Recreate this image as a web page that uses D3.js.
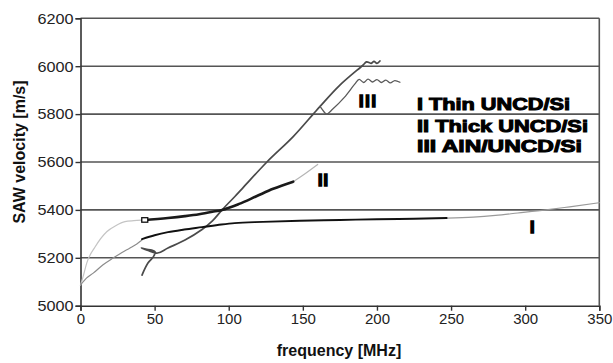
<!DOCTYPE html>
<html><head><meta charset="utf-8">
<script src="https://cdn.jsdelivr.net/npm/d3@7/dist/d3.min.js"></script>
<style>
html,body{margin:0;padding:0;background:#fff;}
svg{display:block;font-family:"Liberation Sans",Arial,sans-serif;}
</style></head>
<body>
<svg id="c" width="613" height="363"></svg>
<script>
// ---- data ----
const freqTicks = [0, 50, 100, 150, 200, 250, 300, 350];
const velTicks = [5000, 5200, 5400, 5600, 5800, 6000, 6200];

// I Thin UNCD/Si
const fitI_f = [0, 4, 8.6, 15, 22, 28, 33.4, 38, 41.5];
const fitI_v = [5086, 5115, 5136, 5170, 5199, 5222, 5241, 5258, 5274];
const measI_f = [41.5, 50, 59, 70, 82, 95, 104, 123, 148, 175, 200, 225, 247];
const measI_v = [5278, 5294, 5307, 5318, 5328, 5339, 5345, 5350, 5355, 5358, 5361, 5363, 5366];
const extI_f = [247, 265, 280, 295, 314, 330, 350];
const extI_v = [5366, 5370, 5377, 5387, 5400, 5413, 5430];

// II Thick UNCD/Si
const fitII_f = [0, 1.7, 4.2, 9.8, 17.7, 24, 30, 36, 41];
const fitII_v = [5085, 5120, 5178, 5245, 5309, 5335, 5351, 5355, 5357];
const measII_f = [42, 59, 70.5, 80, 89, 95.5, 107, 119, 130, 143.5];
const measII_v = [5357, 5366, 5374, 5382, 5392, 5400, 5425, 5458, 5488, 5518];
const extII_f = [143.5, 150, 160];
const extII_v = [5518, 5545, 5590];

// III AlN/UNCD/Si
const measIII_f = [41.5, 45.5, 49, 50.4, 48, 44, 41, 45, 52, 59, 70.5, 82, 89, 95.5, 104, 110, 125.6, 143.5, 157, 161.6, 175, 190.5, 193, 196, 198, 200, 202];
const measIII_v = [5128, 5178, 5203, 5224, 5232, 5236, 5241, 5232, 5220, 5241, 5274, 5318, 5354, 5400, 5455, 5495, 5599, 5706, 5800, 5832, 5921, 6004, 6018, 6012, 6020, 6012, 6022];
const brIII_f = [161.6, 164, 166, 170, 178, 185, 188, 191, 194, 197, 200, 203, 206, 209, 212, 215.5];
const brIII_v = [5832, 5812, 5800, 5820, 5870, 5925, 5945, 5932, 5946, 5934, 5944, 5932, 5942, 5930, 5940, 5933];

const legendLines = ["I Thin UNCD/Si", "II Thick UNCD/Si", "III AlN/UNCD/Si"];

// ---- chart ----
const svg = d3.select("#c");
const L = 80.5, R = 599.3, T = 18.3, B = 305.7;
const x = d3.scaleLinear().domain([0, 350]).range([L, R]);
const y = d3.scaleLinear().domain([5000, 6200]).range([B, T]);

// gridlines
svg.append("g").selectAll("line").data(velTicks.filter(v => v > 5000)).join("line")
  .attr("x1", L).attr("x2", R).attr("y1", d => y(d)).attr("y2", d => y(d))
  .attr("stroke", "#555").attr("stroke-width", 1.6);
// right border
svg.append("line").attr("x1", R).attr("x2", R).attr("y1", T).attr("y2", B)
  .attr("stroke", "#555").attr("stroke-width", 1.6);

// axes
const yAxis = svg.append("g").attr("transform", `translate(${L},0)`)
  .call(d3.axisLeft(y).tickValues(velTicks).tickSize(5).tickPadding(2).tickFormat(d3.format("d")));
const xAxis = svg.append("g").attr("transform", `translate(0,${B})`)
  .call(d3.axisBottom(x).tickValues(freqTicks).tickSize(5).tickPadding(3).tickFormat(d3.format("d")));
[yAxis, xAxis].forEach(g => {
  g.select(".domain").attr("stroke", "#333").attr("stroke-width", 1.6);
  g.selectAll(".tick line").attr("stroke", "#333").attr("stroke-width", 1.4);
  g.selectAll(".tick text").attr("font-size", 15).attr("fill", "#222")
    .attr("font-family", "Liberation Sans, Arial, sans-serif");
});
yAxis.selectAll(".tick text").attr("textLength", 36).attr("lengthAdjust", "spacingAndGlyphs");

const zip = (fs, vs) => fs.map((f, i) => [f, vs[i]]);
const lineSmooth = d3.line().x(d => x(d[0])).y(d => y(d[1])).curve(d3.curveMonotoneX);
const lineCR = d3.line().x(d => x(d[0])).y(d => y(d[1])).curve(d3.curveCatmullRom.alpha(0.5));

function draw(fs, vs, gen, color, w) {
  svg.append("path").attr("d", gen(zip(fs, vs))).attr("fill", "none")
    .attr("stroke", color).attr("stroke-width", w).attr("stroke-linejoin", "round").attr("stroke-linecap", "round");
}
draw(fitII_f, fitII_v, lineSmooth, "#c4c4c4", 1.2);
draw(fitI_f, fitI_v, lineSmooth, "#8c8c8c", 1.2);
draw(extI_f, extI_v, lineSmooth, "#9a9a9a", 1.2);
draw(extII_f, extII_v, lineSmooth, "#b5b5b5", 1.2);
draw(measIII_f, measIII_v, lineCR, "#4a4a4a", 1.7);
draw(brIII_f, brIII_v, lineCR, "#5a5a5a", 1.3);
draw(measI_f, measI_v, lineSmooth, "#111", 1.9);
draw(measII_f, measII_v, lineSmooth, "#1a1a1a", 2.6);
// hollow start marker of II
svg.append("rect").attr("x", x(measII_f[0]) - 1).attr("y", y(measII_v[0]) - 2.5)
  .attr("width", 6).attr("height", 4.5).attr("fill", "#fff").attr("stroke", "#111").attr("stroke-width", 1.3);

// curve labels
function heavy(t, px, py, len, size, sw) {
  const e = svg.append("text").attr("x", px).attr("y", py).text(t)
    .attr("font-size", size).attr("font-weight", "bold").attr("fill", "#000")
    .attr("stroke", "#000").attr("stroke-width", sw);
  if (len) e.attr("textLength", len).attr("lengthAdjust", "spacing");
  return e;
}
heavy("III", 359, 107, 17, 16, 1.6);
heavy("II", 318, 186, 10, 16, 1.6);
heavy("I", 530, 233, null, 16, 1.6);
const legW = [153, 171, 165];
const legY = [110, 132, 152];
legendLines.forEach((t, i) => heavy(t, 417, legY[i], legW[i], 16.5, 1.0)
  .attr("lengthAdjust", "spacingAndGlyphs"));

// axis titles
svg.append("text").attr("x", 339).attr("y", 356).attr("text-anchor", "middle")
  .attr("font-size", 16).attr("font-weight", "bold").attr("fill", "#111").text("frequency [MHz]");
svg.append("text").attr("transform", "translate(25,152) rotate(-90)").attr("text-anchor", "middle")
  .attr("font-size", 16).attr("font-weight", "bold").attr("fill", "#111").text("SAW velocity [m/s]");
</script>
</body></html>
